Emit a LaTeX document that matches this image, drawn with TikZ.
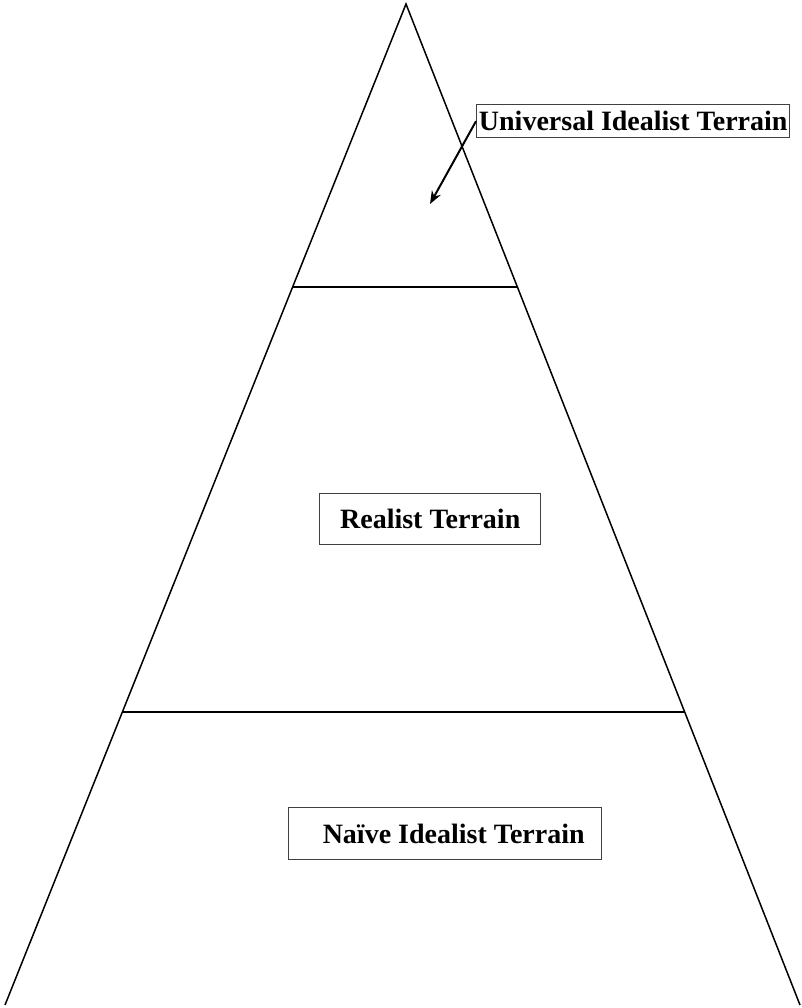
\documentclass[tikz,border=0pt]{standalone}
\usepackage{fontspec}
\setmainfont{Liberation Serif}
\usetikzlibrary{arrows.meta}
\begin{document}
\begin{tikzpicture}[x=1pt,y=-1pt,
  edge/.style={line width=1.5pt,black},
  label/.style={draw=black!75,line width=1.4pt,font=\bfseries\fontsize{28}{30}\selectfont,
    inner sep=0pt,anchor=north west}]
\useasboundingbox (0,0) rectangle (802,1008);
% pyramid outline
\coordinate (apex) at (406,4);
\coordinate (bl) at (5,1005);
\coordinate (br) at (800,1005);
\draw[edge] (bl) -- (apex) -- (br);
% tier dividers
\coordinate (t1l) at (293,287);
\coordinate (t1r) at (517,287);
\coordinate (t2l) at (122,712);
\coordinate (t2r) at (685,712);
\draw[edge] (t1l) -- (t1r);
\draw[edge] (t2l) -- (t2r);
% tier labels
\node[label,minimum width=313pt,minimum height=33pt] (uni) at (476,104)
  {\makebox[313pt][c]{Universal Idealist Terrain}};
\node[label,minimum width=221pt,minimum height=51pt] (real) at (319,493)
  {\makebox[221pt][c]{Realist Terrain}};
\node[label,minimum width=313pt,minimum height=52pt] (naive) at (288,807)
  {\makebox[313pt][c]{\hspace{17pt}Naïve Idealist Terrain}};
\coordinate (tip) at (430,204);
\draw[edge,line width=2pt,-{Stealth[length=13pt,width=10pt]}] (uni.west) -- (tip);
\end{tikzpicture}
\end{document}
